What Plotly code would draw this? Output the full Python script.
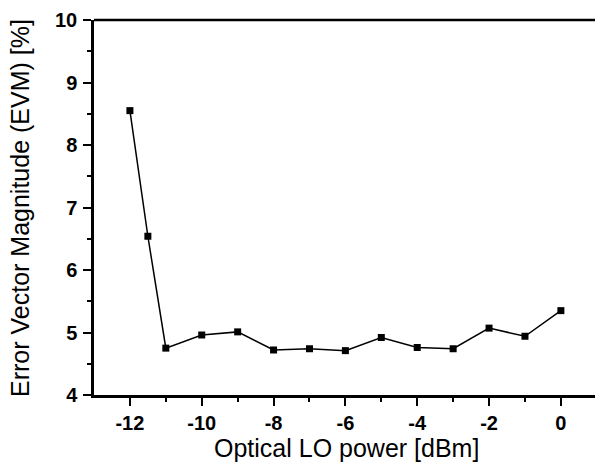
import plotly.graph_objects as go

lo_power_dbm = [-12, -11.5, -11, -10, -9, -8, -7, -6, -5, -4, -3, -2, -1, 0]
evm_percent = [8.55, 6.54, 4.75, 4.96, 5.01, 4.72, 4.74, 4.71, 4.92, 4.76, 4.74, 5.07, 4.94, 5.35]

x_ticks = [-12, -10, -8, -6, -4, -2, 0]
y_ticks = [4, 5, 6, 7, 8, 9, 10]
x_title = "Optical LO power [dBm]"
y_title = "Error Vector Magnitude (EVM) [%]"

fig = go.Figure()
fig.add_trace(go.Scatter(
    x=lo_power_dbm, y=evm_percent, mode="lines+markers",
    line=dict(color="black", width=1.5),
    marker=dict(symbol="square", size=7, color="black"),
    showlegend=False,
))

axis_font = dict(family="Liberation Sans", size=20, color="black")
title_font = dict(family="Liberation Sans", size=25, color="black")

fig.update_xaxes(
    range=[-13, 0.95], tickvals=x_ticks, ticktext=["<b>%d</b>" % v for v in x_ticks],
    showgrid=False, zeroline=False, showline=True, linecolor="black", linewidth=2.5,
    ticks="outside", ticklen=8, tickwidth=2, tickcolor="black",
    minor=dict(tickvals=[-11, -9, -7, -5, -3, -1], ticks="outside", ticklen=4, tickwidth=2, tickcolor="black"),
    tickfont=axis_font, ticklabelstandoff=0,
)
fig.update_yaxes(
    range=[4, 10], tickvals=y_ticks, ticktext=["<b>%d</b>" % v for v in y_ticks],
    showgrid=False, zeroline=False, showline=True, linecolor="black", linewidth=2.5,
    ticks="outside", ticklen=8, tickwidth=2, tickcolor="black",
    minor=dict(tickvals=[4.5, 5.5, 6.5, 7.5, 8.5, 9.5], ticks="outside", ticklen=4, tickwidth=2, tickcolor="black"),
    tickfont=axis_font, ticklabelstandoff=2,
)

fig.add_shape(type="line", xref="paper", yref="paper", x0=0, x1=1, y0=1, y1=1,
              line=dict(color="black", width=2.5))

fig.add_annotation(text=x_title, xref="paper", yref="paper", x=(346 - 94) / 501, y=-53 / 375,
                   xanchor="center", yanchor="middle", showarrow=False, font=title_font)
fig.add_annotation(text=y_title, xref="paper", yref="paper", x=-74 / 501, y=(395 - 208) / 375,
                   xanchor="center", yanchor="middle", showarrow=False, textangle=-90, font=title_font)

fig.update_layout(
    width=595, height=463,
    margin=dict(l=94, r=0, t=20, b=68),
    plot_bgcolor="white", paper_bgcolor="white",
)

fig.write_html("out.html", config={"displayModeBar": False},
               post_script="document.body.style.margin='0';document.body.style.overflow='hidden';")
